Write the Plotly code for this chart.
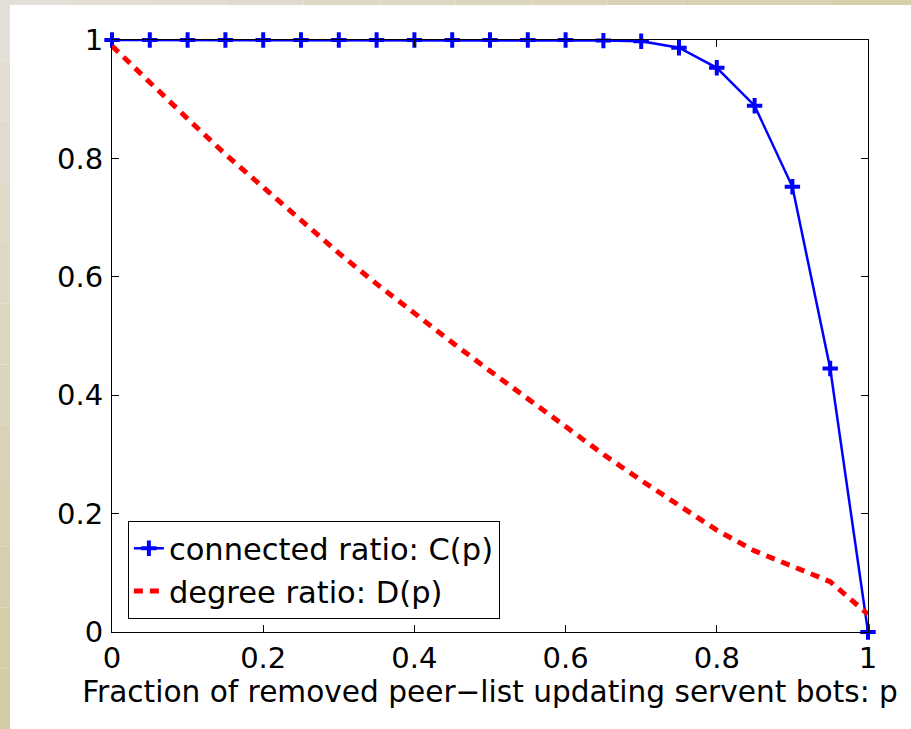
import plotly.graph_objects as go

p_values = [0, 0.05, 0.1, 0.15, 0.2, 0.25, 0.3, 0.35, 0.4, 0.45, 0.5,
            0.55, 0.6, 0.65, 0.7, 0.75, 0.8, 0.85, 0.9, 0.95, 1.0]
connected_ratio = [1, 1, 1, 1, 1, 1, 1, 1, 1, 1, 1,
                   1, 1, 0.999, 0.998, 0.987, 0.953, 0.889, 0.752, 0.445, 0.0]
degree_ratio = [0.99, 0.928, 0.867, 0.807, 0.751, 0.695, 0.640, 0.588, 0.538, 0.489, 0.441,
                0.394, 0.346, 0.300, 0.256, 0.213, 0.172, 0.137, 0.112, 0.085, 0.03]
x_ticks = [0, 0.2, 0.4, 0.6, 0.8, 1]
x_tick_labels = ["0", "0.2", "0.4", "0.6", "0.8", "1"]
y_ticks = [0, 0.2, 0.4, 0.6, 0.8, 1]
y_tick_labels = ["0", "0.2", "0.4", "0.6", "0.8", "1"]

FONT = "DejaVu Sans, Arial, sans-serif"
FS = 29

fig = go.Figure()
fig.add_trace(go.Scatter(
    x=p_values, y=connected_ratio, mode="lines+markers",
    name="connected ratio: C(p)",
    line=dict(color="#0000ff", width=2.5),
    marker=dict(symbol="cross-thin", size=11, color="#0000ff",
                line=dict(color="#0000ff", width=4)),
    cliponaxis=False,
))
fig.add_trace(go.Scatter(
    x=p_values, y=degree_ratio, mode="lines",
    name="degree ratio: D(p)",
    line=dict(color="#ff0000", width=5, dash="9px,7px"),
    cliponaxis=False,
))

# page background: beige border strips on the left and top (gradient approximated by bands)
L, R, T, B = 112, 868, 40, 632
W, H = 911, 729
def px_x(px):
    return (px - L) / (R - L)
def px_y(py):
    return (B - py) / (B - T)

shapes = []
nb = 12
def lerp(c1, c2, t):
    return "rgb(%d,%d,%d)" % tuple(round(a + (b - a) * t) for a, b in zip(c1, c2))
c_light = (226, 223, 214)
c_tan = (212, 202, 166)
for i in range(nb):
    t = i / (nb - 1)
    y0 = H * i / nb
    y1 = H * (i + 1) / nb
    shapes.append(dict(type="rect", xref="paper", yref="paper",
                       x0=px_x(0), x1=px_x(10), y0=px_y(y1), y1=px_y(y0),
                       fillcolor=lerp(c_light, c_tan, t), line=dict(width=0), layer="below"))
    x0 = W * i / nb
    x1 = W * (i + 1) / nb
    shapes.append(dict(type="rect", xref="paper", yref="paper",
                       x0=px_x(x0), x1=px_x(x1), y0=px_y(5), y1=px_y(0),
                       fillcolor=lerp(c_light, (216, 206, 172), t), line=dict(width=0), layer="below"))

fig.update_layout(
    width=W, height=H,
    margin=dict(l=L, r=W - R, t=T, b=H - B),
    paper_bgcolor="white", plot_bgcolor="white",
    font=dict(family=FONT, size=FS, color="black"),
    shapes=shapes,
    showlegend=True,
    legend=dict(x=0.021, y=0.022, xanchor="left", yanchor="bottom",
                bgcolor="white", bordercolor="black", borderwidth=1,
                font=dict(family=FONT, size=30.5, color="black"),
                itemwidth=30, tracegroupgap=0),
    xaxis=dict(range=[0, 1], tickvals=x_ticks, ticktext=x_tick_labels,
               ticks="inside", ticklen=7, tickcolor="black", tickwidth=1,
               showline=True, linecolor="black", linewidth=1.2, mirror="ticks",
               showgrid=False, zeroline=False,
               tickfont=dict(family=FONT, size=FS),
               title=dict(text="Fraction of removed peer\u2212list updating servent bots: p",
                          font=dict(family=FONT, size=29.6), standoff=0)),
    yaxis=dict(range=[0, 1], tickvals=y_ticks, ticktext=y_tick_labels,
               ticks="inside", ticklen=7, tickcolor="black", tickwidth=1,
               showline=True, linecolor="black", linewidth=1.2, mirror="ticks",
               showgrid=False, zeroline=False,
               tickfont=dict(family=FONT, size=FS), ticklabelstandoff=2),
)

fig.write_html("out.html",
               config={"displayModeBar": False},
               post_script="document.body.style.margin='0';document.body.style.padding='0';")
